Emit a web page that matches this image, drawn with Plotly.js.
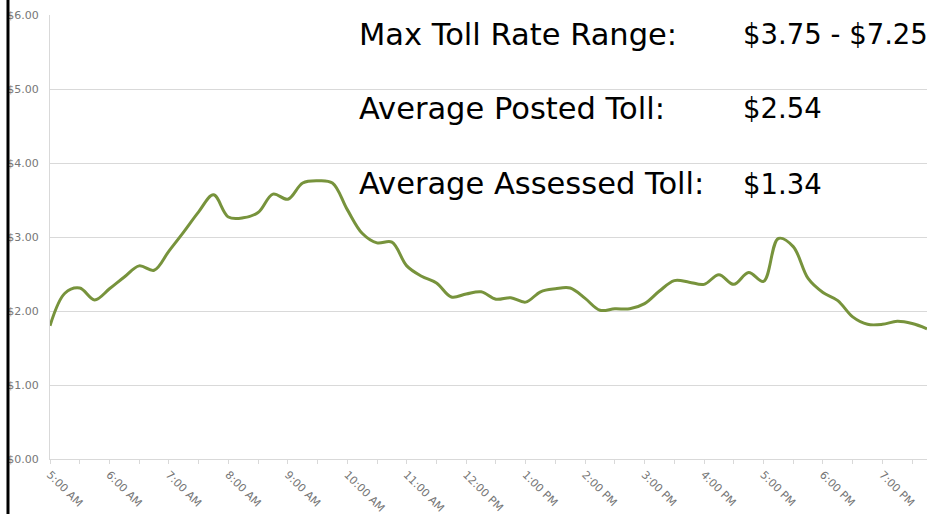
<!DOCTYPE html>
<html>
<head>
<meta charset="utf-8">
<script src="https://cdn.plot.ly/plotly-3.0.1.min.js"></script>
<style>html,body{margin:0;padding:0;background:#fff;}#chart{width:933px;height:514px;}</style>
</head>
<body>
<div id="chart"></div>
<script>
// 15-minute time slots from 5:00 AM to 7:45 PM
const timeSlots = [
  "5:00 AM","5:15 AM","5:30 AM","5:45 AM","6:00 AM","6:15 AM","6:30 AM","6:45 AM",
  "7:00 AM","7:15 AM","7:30 AM","7:45 AM","8:00 AM","8:15 AM","8:30 AM","8:45 AM",
  "9:00 AM","9:15 AM","9:30 AM","9:45 AM","10:00 AM","10:15 AM","10:30 AM","10:45 AM",
  "11:00 AM","11:15 AM","11:30 AM","11:45 AM","12:00 PM","12:15 PM","12:30 PM","12:45 PM",
  "1:00 PM","1:15 PM","1:30 PM","1:45 PM","2:00 PM","2:15 PM","2:30 PM","2:45 PM",
  "3:00 PM","3:15 PM","3:30 PM","3:45 PM","4:00 PM","4:15 PM","4:30 PM","4:45 PM",
  "5:00 PM","5:15 PM","5:30 PM","5:45 PM","6:00 PM","6:15 PM","6:30 PM","6:45 PM",
  "7:00 PM","7:15 PM","7:30 PM","7:45 PM"
];
// Average posted toll ($) per slot
const tollValues = [
  1.80,2.24,2.31,2.15,2.30,2.46,2.61,2.55,
  2.81,3.07,3.34,3.57,3.27,3.26,3.33,3.58,
  3.51,3.73,3.76,3.73,3.37,3.05,2.92,2.93,
  2.61,2.47,2.38,2.19,2.23,2.26,2.16,2.18,
  2.12,2.26,2.30,2.31,2.17,2.01,2.03,2.03,
  2.10,2.27,2.41,2.39,2.36,2.49,2.36,2.52,
  2.40,2.98,2.87,2.44,2.25,2.14,1.92,1.82,
  1.82,1.86,1.83,1.76
];
// Hour tick labels
const hourLabels = [
  "5:00 AM","6:00 AM","7:00 AM","8:00 AM","9:00 AM","10:00 AM","11:00 AM",
  "12:00 PM","1:00 PM","2:00 PM","3:00 PM","4:00 PM","5:00 PM","6:00 PM","7:00 PM"
];
// Summary text
const statLabels = ["Max Toll Rate Range:", "Average Posted Toll:", "Average Assessed Toll:"];
const statValues = ["$3.75 - $7.25", "$2.54", "$1.34"];

const xIdx = timeSlots.map((_, i) => i);
const hourTickVals = hourLabels.map(h => timeSlots.indexOf(h));

const tickFont = {family: "'Century Gothic', 'DejaVu Sans', sans-serif", size: 11, color: '#767676'};
const labelFont = {family: "'Century Gothic', 'DejaVu Sans', sans-serif", size: 30.5, color: '#000'};
const valueFont = {family: "'Century Gothic', 'DejaVu Sans', sans-serif", size: 27.5, color: '#000'};

const rowY = [0.957, 0.790, 0.620];
const annotations = [];
statLabels.forEach((t, k) => {
  annotations.push({xref:'paper', yref:'paper', x:0.350, y:rowY[k], xanchor:'left', yanchor:'middle',
    text:t, showarrow:false, font:labelFont});
  annotations.push({xref:'paper', yref:'paper', x:0.788, y:rowY[k], xanchor:'left', yanchor:'middle',
    text:statValues[k], showarrow:false, font:valueFont});
});

const trace = {
  x: xIdx, y: tollValues, type:'scatter', mode:'lines',
  line:{color:'#77933C', width:3, shape:'spline', smoothing:1},
  hoverinfo:'skip'
};

const layout = {
  width:933, height:514,
  margin:{l:50, r:6, t:15, b:55},
  paper_bgcolor:'#fff', plot_bgcolor:'#fff',
  showlegend:false,
  xaxis:{
    range:[0, timeSlots.length - 1],
    tickmode:'array', tickvals:hourTickVals, ticktext:hourLabels,
    tickangle:45, tickfont:tickFont,
    ticks:'outside', ticklen:4, tickcolor:'#d9d9d9', tickwidth:1,
    minor:{dtick:2, tick0:0, ticks:'outside', ticklen:4, tickcolor:'#d9d9d9', showgrid:false},
    showgrid:false, zeroline:false,
    showline:true, linecolor:'#d9d9d9', linewidth:1
  },
  yaxis:{
    range:[0, 6], dtick:1, tickprefix:'$', tickformat:'.2f',
    tickfont:tickFont, ticks:'', ticklabelstandoff:8,
    showgrid:true, gridcolor:'#d9d9d9', gridwidth:1,
    zeroline:false, showline:true, linecolor:'#d9d9d9', linewidth:1
  },
  annotations: annotations,
  shapes:[{type:'line', xref:'paper', yref:'paper', x0:-0.0479, x1:-0.0479, y0:-0.13, y1:1.04,
    line:{color:'#000', width:3}}]
};

Plotly.newPlot('chart', [trace], layout, {displayModeBar:false, staticPlot:true});
</script>
</body>
</html>
